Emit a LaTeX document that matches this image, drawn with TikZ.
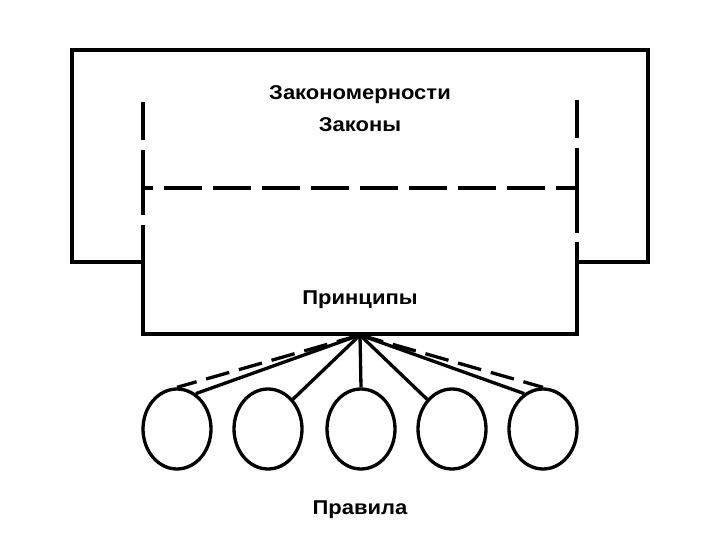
\documentclass[tikz,border=0pt]{standalone}
\usepackage{fontspec}
\setmainfont{Liberation Sans}
\newfontfamily\lblfont[FakeStretch=1.1]{Liberation Sans Bold}
\usetikzlibrary{shapes.geometric}
\tikzset{
  ln/.style={line width=3.3pt},
  dsh/.style={line width=3.3pt, dash pattern=on 38pt off 11pt},
  fdsh/.style={line width=3.3pt, dash pattern=on 24pt off 10pt},
  rule/.style={draw, ellipse, line width=3.3pt, minimum width=68pt, minimum height=80pt, inner sep=0pt},
  lbl/.style={font=\lblfont\fontsize{20}{24}\selectfont, inner sep=0pt}
}
\begin{document}
\begin{tikzpicture}[x=1pt,y=-1pt]
\useasboundingbox (0,0) rectangle (720,540);
% outer box
\draw[ln] (145,262) -- (72,262) -- (72,50) -- (648,50) -- (648,262) -- (577,262);
% inner verticals (dashed top, solid bottom)
\draw[ln] (143,102) -- (143,140);
\draw[ln] (143,150) -- (143,215);
\draw[ln] (143,225) -- (143,334) -- (577,334) -- (577,242);
\draw[ln] (577,233) -- (577,148);
\draw[ln] (577,138) -- (577,100);
% horizontal dashed line
\draw[dsh, dash phase=28pt] (143,188) -- (577,188);
% texts
\node[lbl] (t1) at (360,95) {Закономерности};
\node[lbl] (t2) at (360,125) {Законы};
\node[lbl] (t3) at (360,300) {Принципы};
\node[lbl] (t4) at (360,510) {Правила};
% fan
\coordinate (f) at (360,335);
\node[rule] (c1) at (177,429) {};
\node[rule] (c2) at (268,429) {};
\node[rule] (c3) at (361,429) {};
\node[rule] (c4) at (452,429) {};
\node[rule] (c5) at (543,429) {};
\draw[ln] (f) -- (c1.62);
\draw[ln] (f) -- (c2.50);
\draw[ln] (f) -- (c3.north);
\draw[ln] (f) -- (c4.130);
\draw[ln] (f) -- (c5.118);
\draw[fdsh] (f) -- (c1.north);
\draw[fdsh] (f) -- (c5.north);
\end{tikzpicture}
\end{document}
